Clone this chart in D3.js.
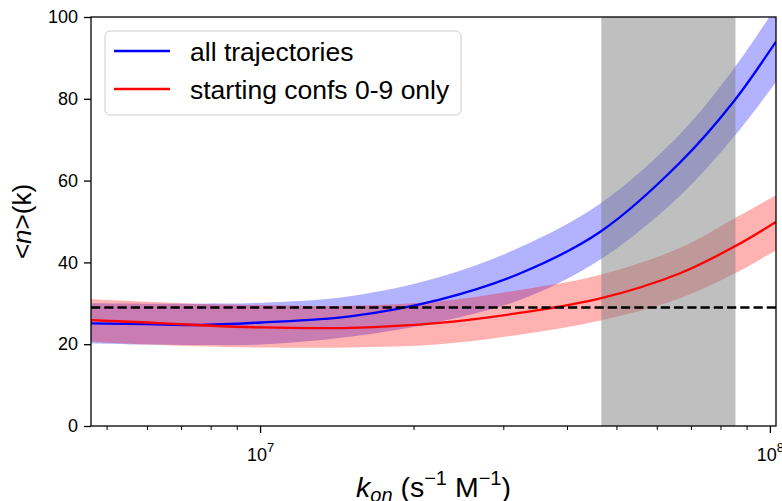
<!DOCTYPE html>
<html>
<head>
<meta charset="utf-8">
<script src="https://cdn.jsdelivr.net/npm/d3@7"></script>
<style>
  html, body { margin: 0; padding: 0; background: #fff; }
  svg { display: block; font-family: "Liberation Sans", Arial, Helvetica, sans-serif; }
</style>
</head>
<body>
<svg id="chart" width="782" height="501"></svg>
<script>
// association rate constants (s^-1 M^-1) at which <n> was evaluated
const kon = [4.66e6, 6e6, 7.5e6, 1e7, 1.5e7, 2.25e7, 3.25e7, 4.65e7, 6.65e7, 8.5e7, 1.028e8];

// all trajectories: mean and uncertainty band
const allMean  = [25.1, 24.9, 24.7, 25.3, 26.8, 30.9, 37.4, 47.5, 64.3, 79.4, 94.0];
const allUpper = [30.0, 29.9, 29.9, 30.1, 31.7, 36.4, 43.8, 54.4, 71.3, 87.4, 102.5];
const allLower = [20.2, 19.9, 19.8, 19.9, 21.8, 25.5, 30.9, 40.7, 56.2, 70.7, 84.1];

// starting confs 0-9 only: mean and uncertainty band
const subMean  = [25.9, 25.3, 24.7, 24.1, 24.0, 25.2, 27.7, 31.2, 37.3, 43.8, 49.9];
const subUpper = [31.0, 30.4, 29.9, 29.6, 29.4, 30.5, 33.3, 37.0, 43.5, 50.7, 56.4];
const subLower = [20.6, 19.9, 19.5, 19.2, 19.2, 20.0, 22.4, 25.8, 31.2, 37.2, 43.0];

// reference level and highlighted k_on interval
const refLevel = 29;
const konRange = [4.67e7, 8.56e7];

const yTicks = [0, 20, 40, 60, 80, 100];
const xMajor = [1e7, 1e8];
const xMinor = [5e6, 6e6, 7e6, 8e6, 9e6, 2e7, 3e7, 4e7, 5e7, 6e7, 7e7, 8e7, 9e7];
const legendLabels = ["all trajectories", "starting confs 0-9 only"];

const margin = { left: 91, right: 776, top: 17, bottom: 426 };
const svg = d3.select("#chart");

const x = d3.scaleLog().domain([4.66e6, 1.028e8]).range([margin.left, margin.right]);
const y = d3.scaleLinear().domain([0, 100]).range([margin.bottom, margin.top]);

svg.append("defs").append("clipPath").attr("id", "plotClip")
  .append("rect")
  .attr("x", margin.left).attr("y", margin.top)
  .attr("width", margin.right - margin.left).attr("height", margin.bottom - margin.top);

const plot = svg.append("g").attr("clip-path", "url(#plotClip)");

const smooth = d3.curveCatmullRom.alpha(0.5);

const area = (lo, hi) => d3.area()
  .x((d, i) => x(kon[i]))
  .y0((d, i) => y(lo[i]))
  .y1((d, i) => y(hi[i]))
  .curve(smooth);

const line = vals => d3.line()
  .x((d, i) => x(kon[i]))
  .y((d, i) => y(vals[i]))
  .curve(smooth);

// uncertainty bands
plot.append("path").datum(kon).attr("d", area(allLower, allUpper))
  .attr("fill", "#0000ff").attr("fill-opacity", 0.3);
plot.append("path").datum(kon).attr("d", area(subLower, subUpper))
  .attr("fill", "#ff0000").attr("fill-opacity", 0.3);

// highlighted interval
plot.append("rect")
  .attr("x", x(konRange[0])).attr("width", x(konRange[1]) - x(konRange[0]))
  .attr("y", margin.top).attr("height", margin.bottom - margin.top)
  .attr("fill", "#808080").attr("fill-opacity", 0.5);

// mean curves
plot.append("path").datum(kon).attr("d", line(allMean))
  .attr("fill", "none").attr("stroke", "#0000ff").attr("stroke-width", 2.3);
plot.append("path").datum(kon).attr("d", line(subMean))
  .attr("fill", "none").attr("stroke", "#ff0000").attr("stroke-width", 2.3);

// reference level
plot.append("line")
  .attr("x1", margin.left).attr("x2", margin.right)
  .attr("y1", y(refLevel)).attr("y2", y(refLevel))
  .attr("stroke", "#000").attr("stroke-width", 2.5)
  .attr("stroke-dasharray", "9.25,4");

// frame
svg.append("rect")
  .attr("x", margin.left).attr("y", margin.top)
  .attr("width", margin.right - margin.left).attr("height", margin.bottom - margin.top)
  .attr("fill", "none").attr("stroke", "#000").attr("stroke-width", 1.3);

// y axis
const yAxis = svg.append("g").attr("transform", `translate(${margin.left},0)`)
  .call(d3.axisLeft(y).tickValues(yTicks).tickSize(7).tickPadding(6).tickFormat(d3.format("d")));
yAxis.select(".domain").remove();
yAxis.selectAll("line").attr("stroke", "#000").attr("stroke-width", 1.3);
yAxis.selectAll("text").attr("font-size", 18).attr("fill", "#000")
  .attr("font-family", "'Liberation Sans', Arial, sans-serif");

// x axis: minor ticks
const xMinorAxis = svg.append("g").attr("transform", `translate(0,${margin.bottom})`)
  .call(d3.axisBottom(x).tickValues(xMinor).tickSize(4).tickFormat(""));
xMinorAxis.select(".domain").remove();
xMinorAxis.selectAll("line").attr("stroke", "#000").attr("stroke-width", 1);

// x axis: major ticks with power-of-ten labels
const xAxis = svg.append("g").attr("transform", `translate(0,${margin.bottom})`)
  .call(d3.axisBottom(x).tickValues(xMajor).tickSize(7).tickFormat(""));
xAxis.select(".domain").remove();
xAxis.selectAll("line").attr("stroke", "#000").attr("stroke-width", 1.3);
xAxis.selectAll(".tick").append("text")
  .attr("y", 35).attr("text-anchor", "middle").attr("fill", "#000")
  .attr("font-size", 18)
  .each(function (d) {
    const t = d3.select(this);
    t.append("tspan").text("10");
    t.append("tspan").attr("font-size", 13).attr("dy", -9).text(Math.round(Math.log10(d)));
  });

// axis titles
const yTitle = svg.append("text")
  .attr("transform", `translate(31,${(margin.top + margin.bottom) / 2}) rotate(-90)`)
  .attr("text-anchor", "middle").attr("font-size", 26).attr("fill", "#000");
yTitle.append("tspan").text("<");
yTitle.append("tspan").attr("font-style", "italic").text("n");
yTitle.append("tspan").text(">(k)");

const xTitle = svg.append("text")
  .attr("x", (margin.left + margin.right) / 2).attr("y", 497)
  .attr("text-anchor", "middle").attr("font-size", 28.5).attr("fill", "#000");
xTitle.append("tspan").attr("font-style", "italic").text("k");
xTitle.append("tspan").attr("font-style", "italic").attr("font-size", 20).attr("dy", 5).text("on");
xTitle.append("tspan").attr("dy", -5).text(" (s");
xTitle.append("tspan").attr("font-size", 20).attr("dy", -12).text("\u22121");
xTitle.append("tspan").attr("dy", 12).text(" M");
xTitle.append("tspan").attr("font-size", 20).attr("dy", -12).text("\u22121");
xTitle.append("tspan").attr("dy", 12).text(")");

// legend
const legend = svg.append("g");
legend.append("rect")
  .attr("x", 105).attr("y", 31).attr("width", 356).attr("height", 84)
  .attr("rx", 5).attr("fill", "#fff").attr("fill-opacity", 0.8)
  .attr("stroke", "#cccccc").attr("stroke-width", 1);
const legendColors = ["#0000ff", "#ff0000"];
legendLabels.forEach((label, i) => {
  const cy = 51 + i * 38;
  legend.append("line").attr("x1", 114).attr("x2", 170).attr("y1", cy).attr("y2", cy)
    .attr("stroke", legendColors[i]).attr("stroke-width", 2.3);
  legend.append("text").attr("x", 190).attr("y", cy + 9.5)
    .attr("font-size", 26.5).attr("fill", "#000").text(label);
});
</script>
</body>
</html>
